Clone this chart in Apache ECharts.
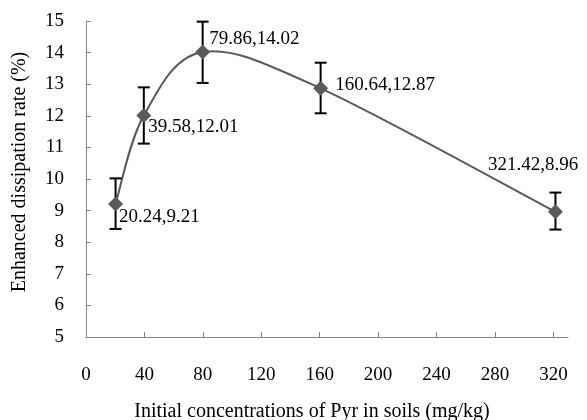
<!DOCTYPE html>
<html>
<head>
<meta charset="utf-8">
<script src="https://cdn.jsdelivr.net/npm/echarts@6/dist/echarts.min.js"></script>
<style>
html,body{margin:0;padding:0;background:#fff;}
#chart{width:587px;height:420px;}
</style>
</head>
<body>
<div id="chart"></div>
<script>
// Data
const concentrations = [20.24, 39.58, 79.86, 160.64, 321.42];
const rates = [9.21, 12.01, 14.02, 12.87, 8.96];
const errLow = [8.42, 11.12, 13.04, 12.08, 8.40];
const errHigh = [10.02, 12.90, 14.98, 13.68, 9.57];
const xTickValues = [0, 40, 80, 120, 160, 200, 240, 280, 320];
const labelOffsets = [[-4, 13], [-3, 12], [-1, -13], [7, -3], [-75, -47]];

const FONT = 'Liberation Serif';
const chart = echarts.init(document.getElementById('chart'), null, {renderer: 'canvas'});

const pointData = concentrations.map((x, i) => ({
  value: [x, rates[i]],
  label: {offset: labelOffsets[i]}
}));
const errData = concentrations.map((x, i) => [x, errLow[i], errHigh[i]]);

// Smoothed line (Excel-like Catmull-Rom Bezier) through the data points, mapped via the axes
function renderCurve(params, api) {
  if (params.dataIndex !== 0) return null;
  const P = concentrations.map((x, i) => api.coord([x, rates[i]]));
  const n = P.length;
  let d = 'M' + P[0][0] + ' ' + P[0][1];
  for (let i = 0; i < n - 1; i++) {
    const p0 = P[Math.max(i - 1, 0)], p1 = P[i], p2 = P[i + 1], p3 = P[Math.min(i + 2, n - 1)];
    const c1 = [p1[0] + (p2[0] - p0[0]) / 6, p1[1] + (p2[1] - p0[1]) / 6];
    const c2 = [p2[0] - (p3[0] - p1[0]) / 6, p2[1] - (p3[1] - p1[1]) / 6];
    d += ' C' + c1[0] + ' ' + c1[1] + ' ' + c2[0] + ' ' + c2[1] + ' ' + p2[0] + ' ' + p2[1];
  }
  return {
    type: 'path',
    shape: {pathData: d},
    style: {stroke: '#5a5a5a', lineWidth: 2, fill: null}
  };
}

chart.setOption({
  animation: false,
  backgroundColor: '#fff',
  grid: {left: 86, right: 19, top: 21, bottom: 83, outerBoundsMode: 'none', containLabel: false},
  xAxis: {
    type: 'value', min: 0, max: 330,
    name: 'Initial concentrations of Pyr in soils (mg/kg)',
    nameLocation: 'middle', nameGap: 65,
    nameTextStyle: {fontFamily: FONT, fontSize: 20, color: '#000', padding: [0, 30, 0, 0]},
    axisLine: {lineStyle: {color: '#888', width: 1}},
    axisTick: {inside: true, length: 5, lineStyle: {color: '#888'}, customValues: xTickValues},
    axisLabel: {fontFamily: FONT, fontSize: 19, color: '#000', margin: 29, customValues: xTickValues},
    splitLine: {show: false}
  },
  yAxis: {
    type: 'value', min: 5, max: 15, interval: 1,
    name: 'Enhanced dissipation rate (%)',
    nameLocation: 'middle', nameGap: 56,
    nameTextStyle: {fontFamily: FONT, fontSize: 20, color: '#000', padding: [0, 0, 0, 14]},
    axisLine: {show: true, lineStyle: {color: '#888', width: 1}},
    axisTick: {show: true, inside: true, length: 5, lineStyle: {color: '#888'}},
    axisLabel: {fontFamily: FONT, fontSize: 19, color: '#000', margin: 22},
    splitLine: {show: false}
  },
  series: [
    {
      type: 'custom',
      z: 1,
      data: [[concentrations[0], rates[0]]],
      renderItem: renderCurve,
      silent: true
    },
    {
      type: 'custom',
      z: 2,
      data: errData,
      renderItem: function (params, api) {
        const x = api.value(0);
        const lo = api.coord([x, api.value(1)]);
        const hi = api.coord([x, api.value(2)]);
        const w = 6;
        const st = {stroke: '#000', lineWidth: 2};
        return {
          type: 'group',
          children: [
            {type: 'line', shape: {x1: lo[0], y1: lo[1], x2: hi[0], y2: hi[1]}, style: st},
            {type: 'line', shape: {x1: lo[0] - w, y1: lo[1], x2: lo[0] + w, y2: lo[1]}, style: st},
            {type: 'line', shape: {x1: hi[0] - w, y1: hi[1], x2: hi[0] + w, y2: hi[1]}, style: st}
          ]
        };
      }
    },
    {
      type: 'line',
      z: 3,
      data: pointData,
      symbol: 'diamond',
      symbolSize: 15,
      lineStyle: {width: 0, opacity: 0},
      itemStyle: {color: '#5a5a5a'},
      label: {
        show: true, position: 'right', distance: 0,
        fontFamily: FONT, fontSize: 19, color: '#000',
        formatter: p => p.value[0].toFixed(2) + ',' + p.value[1].toFixed(2)
      }
    }
  ]
});
</script>
</body>
</html>
